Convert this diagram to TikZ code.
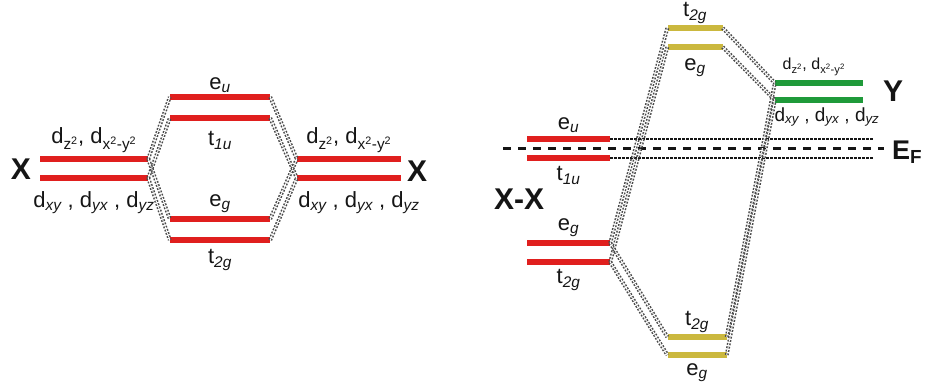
\documentclass[tikz,border=0pt]{standalone}
\usepackage{fontspec}
\setmainfont{Liberation Sans}
\usetikzlibrary{positioning}
\definecolor{ink}{HTML}{151515}
\definecolor{lvred}{HTML}{E01F1E}
\definecolor{lvyel}{HTML}{CBB83E}
\definecolor{lvgrn}{HTML}{1F9A3A}
\definecolor{dotgr}{HTML}{4A4A4A}
\tikzset{
  lv/.style={rectangle,inner sep=0pt,minimum height=6pt,fill=lvred},
  lvy/.style={lv,fill=lvyel},
  lvg/.style={lv,fill=lvgrn},
  lbl/.style={inner sep=0pt,text=ink,font=\fontsize{22}{24}\selectfont},
  lbls/.style={lbl,font=\fontsize{19}{21}\selectfont},
  big/.style={inner sep=0pt,text=ink,font=\fontsize{30}{32}\selectfont\bfseries},
  cn/.style={draw=dotgr,line width=1.5pt,double=white,double distance=.9pt,dash pattern=on 1.8pt off 1.6pt},
  efl/.style={draw=ink,line width=3pt,dash pattern=on 8pt off 7pt},
  efd/.style={draw=ink,line width=2.2pt,dash pattern=on 2.4pt off 1.6pt},
}
\newcommand{\dd}[1]{d\textsubscript{\itshape #1}}
\newcommand{\dup}{d\textsubscript{z\textsuperscript{2}}, d\textsubscript{x\textsuperscript{2}-y\textsuperscript{2}}}
\newcommand{\ddown}{\dd{xy} , \dd{yx} , \dd{yz}}

\begin{document}
\begin{tikzpicture}[x=1pt,y=-1pt]
  \useasboundingbox (0,0) rectangle (928,383);
  % left: X + X
  \node[lv,minimum width=108pt] (xa1) at (94,159) {};
  \node[lv,minimum width=108pt] (xa2) at (94,178) {};
  \node[lv,minimum width=100pt] (eu) at (220,97) {};
  \node[lv,minimum width=100pt] (tiu) at (220,118) {};
  \node[lv,minimum width=100pt] (eg) at (220,219) {};
  \node[lv,minimum width=100pt] (ttg) at (220,240) {};
  \node[lv,minimum width=104pt] (xb1) at (349,159) {};
  \node[lv,minimum width=104pt] (xb2) at (349,178) {};
  \node[big] (xl) at (21,169) {X};
  \node[big] (xr) at (417,171) {X};
  \node[lbl,above=3pt of xa1] (xa1l) {\dup};
  \node[lbl,below=10pt of xa2] (xa2l) {\ddown};
  \node[lbl,above=1pt of eu] (eul) {e\textsubscript{\itshape u}};
  \node[lbl,below=10pt of tiu] (tiul) {t\textsubscript{\itshape 1u}};
  \node[lbl,above=3pt of eg] (egl) {e\textsubscript{\itshape g}};
  \node[lbl,below=6pt of ttg] (ttgl) {t\textsubscript{\itshape 2g}};
  \node[lbl,above=3pt of xb1] (xb1l) {\dup};
  \node[lbl,below=10pt of xb2,xshift=10pt] (xb2l) {\ddown};
  \draw[cn] (xa1.east) -- (eu.west);
  \draw[cn] (xa2.east) -- (tiu.west);
  \draw[cn] (xa1.east) -- (eg.west);
  \draw[cn] (xa2.east) -- (ttg.west);
  \draw[cn] (eu.east) -- (xb1.west);
  \draw[cn] (tiu.east) -- (xb2.west);
  \draw[cn] (eg.east) -- (xb1.west);
  \draw[cn] (ttg.east) -- (xb2.west);
  % right: X-X + Y
  \coordinate (efa) at (503,148);
  \coordinate (efb) at (884,148);
  \coordinate (dta) at (873,139);
  \coordinate (dtb) at (873,158);
  \draw[efl] (efa) -- (efb);
  \node[lv,minimum width=83pt] (peu) at (568.5,139) {};
  \node[lv,minimum width=83pt] (ptu) at (568.5,158) {};
  \node[lv,minimum width=83pt] (peg) at (568.5,243) {};
  \node[lv,minimum width=83pt] (ptg) at (568.5,262) {};
  \draw[efd] (peu.east) -- (dta);
  \draw[efd] (ptu.east) -- (dtb);
  \node[lvy,minimum width=55pt] (yt1) at (695,28) {};
  \node[lvy,minimum width=55pt] (yt2) at (695,47) {};
  \node[lvg,minimum width=88pt] (g1) at (819,83) {};
  \node[lvg,minimum width=88pt] (g2) at (819,100) {};
  \node[lvy,minimum width=59pt] (yb1) at (697,337) {};
  \node[lvy,minimum width=59pt] (yb2) at (697,355) {};
  \node[big] (xx) at (519,199) {X-X};
  \node[big] (yl) at (893,91) {Y};
  \node[big,anchor=west,font=\fontsize{27}{29}\selectfont\bfseries] (ef) at (892,152) {E\textsubscript{F}};
  \node[lbl,above=3pt of peu] (peul) {e\textsubscript{\itshape u}};
  \node[lbl,below=5pt of ptu] (ptul) {t\textsubscript{\itshape 1u}};
  \node[lbl,above=3pt of peg] (pegl) {e\textsubscript{\itshape g}};
  \node[lbl,below=4pt of ptg] (ptgl) {t\textsubscript{\itshape 2g}};
  \node[lbl,above=1pt of yt1] (yt1l) {t\textsubscript{\itshape 2g}};
  \node[lbl,below=8pt of yt2] (yt2l) {e\textsubscript{\itshape g}};
  \node[lbls,above=4pt of g1,xshift=-5pt,font=\fontsize{16}{18}\selectfont] (g1l) {\dup};
  \node[lbls,below=4pt of g2,xshift=8pt] (g2l) {\ddown};
  \node[lbl,above=1pt of yb1] (yb1l) {t\textsubscript{\itshape 2g}};
  \node[lbl,below=5pt of yb2] (yb2l) {e\textsubscript{\itshape g}};
  \draw[cn] (yt1.west) -- (peg.east);
  \draw[cn] (yt2.west) -- (ptg.east);
  \draw[cn] (peg.east) -- (yb1.west);
  \draw[cn] (ptg.east) -- (yb2.west);
  \draw[cn] (yt1.east) -- (g1.west);
  \draw[cn] (yt2.east) -- (g2.west);
  \draw[cn] (yb1.east) -- (g1.west);
  \draw[cn] (yb2.east) -- (g2.west);
\end{tikzpicture}
\end{document}
